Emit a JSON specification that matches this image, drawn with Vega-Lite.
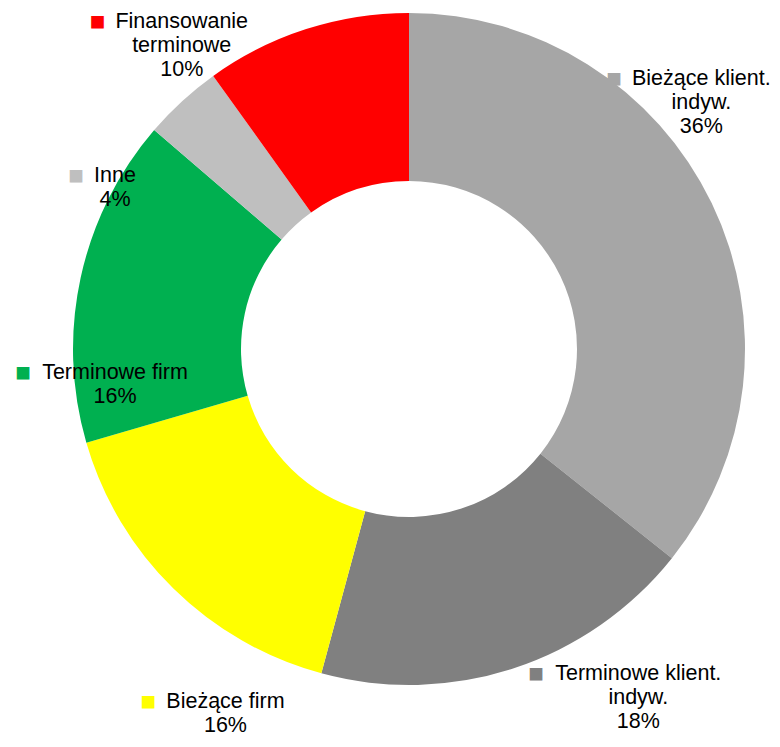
{
  "$schema": "https://vega.github.io/schema/vega-lite/v6.json",
  "width": 742,
  "height": 698,
  "autosize": {"type": "none"},
  "padding": {"left": 38, "top": 0, "right": 0, "bottom": 49},
  "background": "white",
  "config": {"view": {"stroke": null}, "font": "Liberation Sans"},
  "data": {
    "values": [
      {"idx": 1, "category": "Bieżące klient.\nindyw.", "value": 35.7, "pct": "36%"},
      {"idx": 2, "category": "Terminowe klient.\nindyw.", "value": 18.5, "pct": "18%"},
      {"idx": 3, "category": "Bieżące firm", "value": 16.3, "pct": "16%"},
      {"idx": 4, "category": "Terminowe firm", "value": 15.8, "pct": "16%"},
      {"idx": 5, "category": "Inne", "value": 3.8, "pct": "4%"},
      {"idx": 6, "category": "Finansowanie\nterminowe", "value": 9.9, "pct": "10%"}
    ]
  },
  "transform": [
    {"calculate": "datum.category + '\\n' + datum.pct", "as": "labelText"},
    {"calculate": "split(datum.category, '\\n')[0]", "as": "firstLine"}
  ],
  "encoding": {
    "theta": {"field": "value", "type": "quantitative", "stack": true},
    "order": {"field": "idx", "type": "quantitative"}
  },
  "layer": [
    {
      "mark": {"type": "arc", "outerRadius": 336, "innerRadius": 168},
      "encoding": {
        "color": {
          "field": "category",
          "type": "nominal",
          "scale": {
            "domain": ["Bieżące klient.\nindyw.", "Terminowe klient.\nindyw.", "Bieżące firm", "Terminowe firm", "Inne", "Finansowanie\nterminowe"],
            "range": ["#A6A6A6", "#808080", "#FFFF00", "#00B050", "#BFBFBF", "#FF0000"]
          },
          "legend": null
        }
      }
    },
    {
      "mark": {
        "type": "text",
        "radius": {"expr": "min(398, (sin(scale('theta', 0.5*datum.value_start + 0.5*datum.value_end) - 0.2967) < 0 ? 294 : 298) / abs(sin(scale('theta', 0.5*datum.value_start + 0.5*datum.value_end) - 0.2967)))"},
        "thetaOffset": -0.2967,
        "font": "Liberation Sans",
        "fontSize": 21.5,
        "lineHeight": 24,
        "lineBreak": "\n",
        "align": "center",
        "baseline": "middle",
        "fill": "#000000"
      },
      "encoding": {
        "text": {"field": "labelText", "type": "nominal"},
        "detail": {"field": "category", "type": "nominal"}
      }
    },
    {
      "mark": {
        "type": "text",
        "radius": {"expr": "min(398, (sin(scale('theta', 0.5*datum.value_start + 0.5*datum.value_end) - 0.2967) < 0 ? 294 : 298) / abs(sin(scale('theta', 0.5*datum.value_start + 0.5*datum.value_end) - 0.2967)))"},
        "thetaOffset": -0.2967,
        "dx": {"expr": "-10.75 * (0.556*length(datum.firstLine) - 0.334*length(replace(datum.firstLine, regexp('[^ilj]','g'), '')) - 0.278*length(replace(datum.firstLine, regexp('[^ .tfI]','g'), '')) - 0.223*length(replace(datum.firstLine, regexp('[^r]','g'), '')) - 0.056*length(replace(datum.firstLine, regexp('[^cksvxyzż]','g'), '')) + 0.055*length(replace(datum.firstLine, regexp('[^TF]','g'), '')) + 0.111*length(replace(datum.firstLine, regexp('[^BEKPSVXY]','g'), '')) + 0.166*length(replace(datum.firstLine, regexp('[^wCDHNR]','g'), '')) + 0.277*length(replace(datum.firstLine, regexp('[^mM]','g'), ''))) - 10"},
        "font": "Liberation Sans",
        "fontSize": 26,
        "align": "right",
        "baseline": "middle"
      },
      "encoding": {
        "text": {"value": "■"},
        "color": {"field": "category", "type": "nominal", "legend": null}
      }
    }
  ]
}
